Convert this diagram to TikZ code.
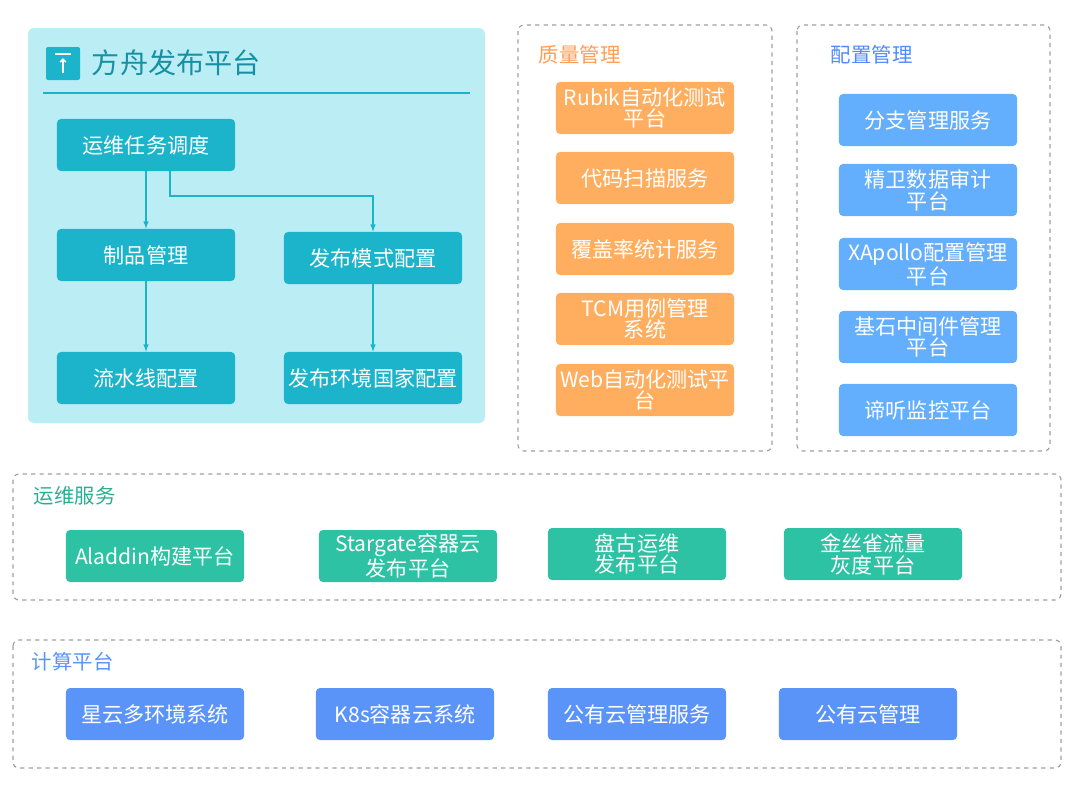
\documentclass[tikz,border=0pt]{standalone}
\usepackage{fontspec}
\setmainfont{Noto Sans CJK SC}
\usetikzlibrary{arrows.meta}
\definecolor{panelbg}{HTML}{BAEEF4}
\definecolor{teal}{HTML}{1CB4CA}
\definecolor{orng}{HTML}{FFAE5F}
\definecolor{lblue}{HTML}{63AEFD}
\definecolor{grn}{HTML}{2CC2A3}
\definecolor{dblue}{HTML}{5B94F8}
\definecolor{dashgray}{HTML}{A0A0A0}

\begin{document}
\begin{tikzpicture}[x=0.025cm, y=-0.025cm,
  every node/.style={rounded corners=0.1cm},
  box/.style={text=white, font=\fontsize{15}{15.5}\selectfont, align=center,
    minimum width=4.45cm, minimum height=1.3cm, inner sep=1pt},
  tbox/.style={box, fill=teal},
  qbox/.style={box, fill=orng},
  cbox/.style={box, fill=lblue},
  sbox/.style={box, fill=grn},
  pbox/.style={box, fill=dblue},
  group/.style={draw=dashgray, dashed, thick, rounded corners=0.15cm},
  title/.style={font=\fontsize{14.5}{15}\selectfont, anchor=west}]
  \useasboundingbox (0,0) rectangle (1080,784);

  % main panel
  \fill[panelbg, rounded corners=0.15cm] (28,28) rectangle (485,423);
  \fill[teal, rounded corners=0.05cm] (46,47) rectangle (80,80);
  \draw[white, line width=1.2pt] (55,54) -- (71,54);
  \draw[white, line width=1.2pt, -{Straight Barb[length=2pt]}] (63,73) -- (63,58);
  \node[title, font=\fontsize{20}{21}\selectfont, text=teal!80!black] (ark) at (87,63) {方舟发布平台};
  \draw[teal, thick] (43,93) -- (470,93);

  \node[tbox] (sched) at (146,145) {运维任务调度};
  \node[tbox] (artifact) at (146,255) {制品管理};
  \node[tbox] (mode) at (373,258) {发布模式配置};
  \node[tbox] (pipe) at (146,378) {流水线配置};
  \node[tbox] (env) at (373,378) {发布环境国家配置};

  \coordinate (M1) at (170,196);

  \draw[->, >=latex, teal, thick]
    (sched) edge (artifact)
    (artifact) edge (pipe)
    (mode) edge (env);
  \draw[->, >=latex, teal, thick]
    (sched.south -| M1) -- (M1) -| (mode);

  % quality
  \draw[group] (518,25) rectangle (772,451);
  \node[title, text=orng!90!red] (qa) at (534,55) {质量管理};
  \node[qbox] (rubik) at (645,108) {Rubik自动化测试\\平台};
  \node[qbox] (scan) at (645,178) {代码扫描服务};
  \node[qbox] (cover) at (645,249) {覆盖率统计服务};
  \node[qbox] (tcm) at (645,319) {TCM用例管理\\系统};
  \node[qbox] (web) at (645,390) {Web自动化测试平\\台};

  % config
  \draw[group] (797,25) rectangle (1050,451);
  \node[title, text=lblue!80!blue] (cfg) at (826,55) {配置管理};
  \node[cbox] (branch) at (928,120) {分支管理服务};
  \node[cbox] (audit) at (928,190) {精卫数据审计\\平台};
  \node[cbox] (apollo) at (928,264) {XApollo配置管理\\平台};
  \node[cbox] (mid) at (928,337) {基石中间件管理\\平台};
  \node[cbox] (mon) at (928,410) {谛听监控平台};

  % ops
  \draw[group] (13,474) rectangle (1061,600);
  \node[title, text=grn!90!black] (ops) at (29,496) {运维服务};
  \node[sbox] (aladdin) at (155,556) {Aladdin构建平台};
  \node[sbox] (star) at (408,556) {Stargate容器云\\发布平台};
  \node[sbox] (pangu) at (637,554) {盘古运维\\发布平台};
  \node[sbox] (canary) at (873,554) {金丝雀流量\\灰度平台};

  % compute
  \draw[group] (13,640) rectangle (1061,768);
  \node[title, text=dblue] (comp) at (27,662) {计算平台};
  \node[pbox] (nebula) at (155,714) {星云多环境系统};
  \node[pbox] (k8s) at (405,714) {K8s容器云系统};
  \node[pbox] (cloudsvc) at (637,714) {公有云管理服务};
  \node[pbox] (cloud) at (868,714) {公有云管理};
\end{tikzpicture}
\end{document}
